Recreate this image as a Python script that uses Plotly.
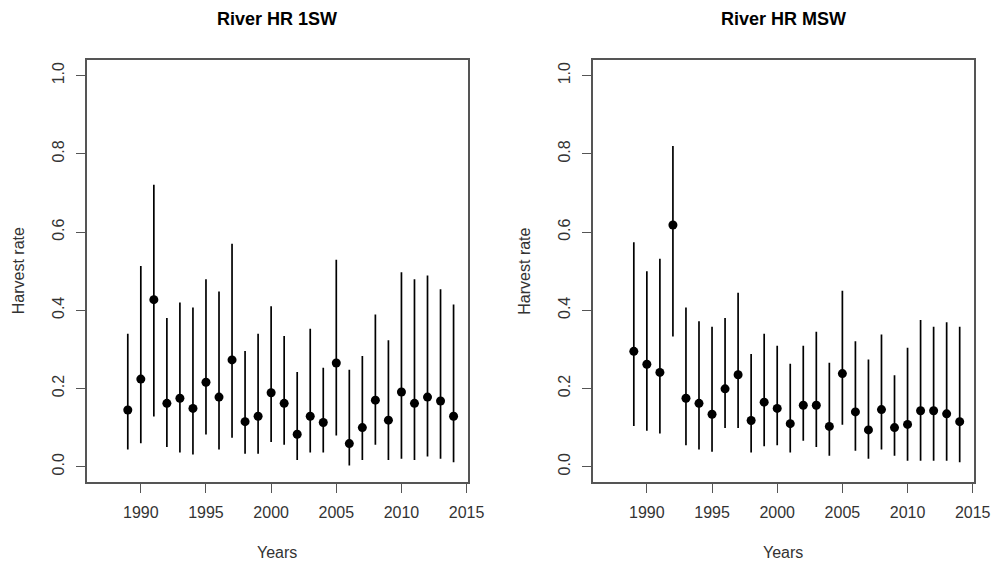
import plotly.graph_objects as go

years = list(range(1989, 2015))

# River HR 1SW
est_1sw = [0.145, 0.224, 0.427, 0.162, 0.175, 0.149, 0.216, 0.178, 0.273, 0.115,
           0.129, 0.189, 0.162, 0.083, 0.129, 0.113, 0.265, 0.059, 0.100, 0.170,
           0.119, 0.191, 0.162, 0.178, 0.168, 0.129]
lo_1sw = [0.044, 0.060, 0.128, 0.050, 0.036, 0.031, 0.082, 0.044, 0.074, 0.033,
          0.033, 0.063, 0.056, 0.017, 0.036, 0.036, 0.080, 0.003, 0.017, 0.056,
          0.017, 0.020, 0.017, 0.026, 0.020, 0.011]
hi_1sw = [0.340, 0.513, 0.721, 0.380, 0.420, 0.407, 0.479, 0.448, 0.570, 0.296,
          0.340, 0.410, 0.334, 0.242, 0.353, 0.253, 0.529, 0.248, 0.283, 0.389,
          0.323, 0.497, 0.479, 0.489, 0.454, 0.415]

# River HR MSW
est_msw = [0.295, 0.262, 0.241, 0.618, 0.175, 0.162, 0.134, 0.199, 0.235, 0.118,
           0.165, 0.149, 0.110, 0.157, 0.157, 0.103, 0.238, 0.140, 0.094, 0.146,
           0.100, 0.108, 0.143, 0.143, 0.135, 0.115]
lo_msw = [0.104, 0.092, 0.085, 0.333, 0.055, 0.044, 0.038, 0.099, 0.099, 0.036,
          0.052, 0.055, 0.036, 0.066, 0.050, 0.028, 0.107, 0.041, 0.020, 0.044,
          0.028, 0.015, 0.015, 0.015, 0.015, 0.011]
hi_msw = [0.574, 0.500, 0.532, 0.820, 0.407, 0.372, 0.358, 0.380, 0.445, 0.288,
          0.340, 0.309, 0.263, 0.309, 0.345, 0.266, 0.450, 0.321, 0.274, 0.338,
          0.234, 0.304, 0.375, 0.358, 0.369, 0.358]

titles = ["River HR 1SW", "River HR MSW"]
x_ticks = [1990, 1995, 2000, 2005, 2010, 2015]
y_ticks = [0.0, 0.2, 0.4, 0.6, 0.8, 1.0]
y_ticklabels = ["0.0", "0.2", "0.4", "0.6", "0.8", "1.0"]

FONT = "Liberation Sans, Arial, sans-serif"
FRAME = "#555555"
TEXT = "#333333"

fig = go.Figure()

panels = [
    (est_1sw, lo_1sw, hi_1sw, "x", "y"),
    (est_msw, lo_msw, hi_msw, "x2", "y2"),
]
for est, lo, hi, xa, ya in panels:
    fig.add_trace(go.Scatter(
        x=years, y=est, mode="markers", xaxis=xa, yaxis=ya,
        marker=dict(color="black", size=9),
        error_y=dict(type="data", symmetric=False,
                     array=[h - e for h, e in zip(hi, est)],
                     arrayminus=[e - l for e, l in zip(est, lo)],
                     color="black", thickness=1.7, width=0),
        showlegend=False, hoverinfo="skip"))

# page body has an 8px margin; the capture appears horizontally compressed by ~1000/1016
OFF = 8
KX = 1000 / 1016.0
W = 1008
H = 569 - 2 * OFF


def px(v):
    return (v / KX - OFF) / W


def py(v):
    return 1 - (v - OFF) / H


ydom = [py(482.3), py(60)]
xdoms = [[px(86.7), px(468.3)], [px(593.3), px(975)]]

common_x = dict(range=[1985.85, 2015.1], tickvals=x_ticks, ticks="outside", ticklen=9,
                tickwidth=1, tickcolor=FRAME, showline=True, linecolor=FRAME,
                linewidth=1.5, mirror=True, showgrid=False, zeroline=False,
                tickfont=dict(family=FONT, size=16, color=TEXT), ticklabelstandoff=6)
common_y = dict(range=[-0.04, 1.04], tickvals=y_ticks, ticktext=y_ticklabels,
                ticks="outside", ticklen=9, tickwidth=1, tickcolor=FRAME,
                showline=True, linecolor=FRAME, linewidth=1.5, mirror=True,
                showgrid=False, zeroline=False, tickangle=-90,
                tickfont=dict(family=FONT, size=16, color=TEXT), ticklabelstandoff=6)

fig.update_layout(
    width=W, height=H,
    margin=dict(l=0, r=0, t=0, b=0),
    paper_bgcolor="white", plot_bgcolor="white",
    xaxis=dict(common_x, domain=xdoms[0], anchor="y"),
    yaxis=dict(common_y, domain=ydom, anchor="x"),
    xaxis2=dict(common_x, domain=xdoms[1], anchor="y2"),
    yaxis2=dict(common_y, domain=ydom, anchor="x2"),
)

annotations = []
for i, (dom, t) in enumerate(zip(xdoms, titles)):
    cx = (dom[0] + dom[1]) / 2
    annotations.append(dict(text="<b>%s</b>" % t, x=cx, y=py(19), xref="paper", yref="paper",
                            showarrow=False, font=dict(family=FONT, size=18, color="black"),
                            xanchor="center", yanchor="middle"))
    annotations.append(dict(text="Years", x=cx, y=py(552), xref="paper", yref="paper",
                            showarrow=False, font=dict(family=FONT, size=16, color=TEXT),
                            xanchor="center", yanchor="middle"))
    annotations.append(dict(text="Harvest rate", x=px([18, 525][i]),
                            y=(ydom[0] + ydom[1]) / 2, xref="paper", yref="paper",
                            showarrow=False, textangle=-90,
                            font=dict(family=FONT, size=16, color=TEXT),
                            xanchor="center", yanchor="middle"))
fig.update_layout(annotations=annotations)

fig.write_html("out.html")
